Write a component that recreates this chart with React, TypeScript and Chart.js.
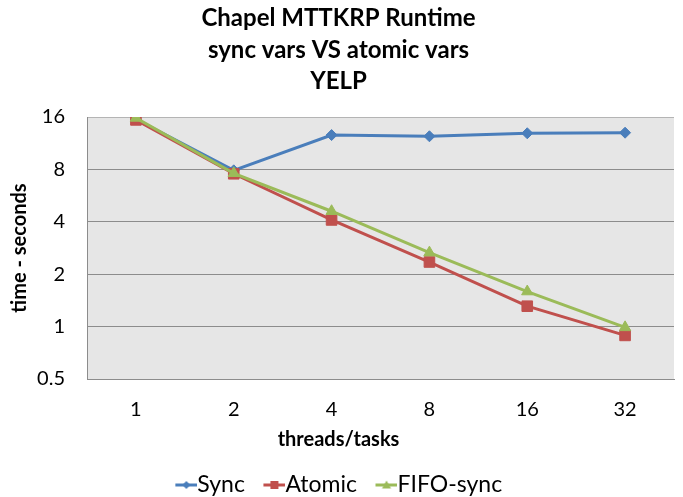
import React, { useEffect, useRef } from "react";
import { Chart, registerables } from "chart.js";

Chart.register(...registerables);

const categories = ["1", "2", "4", "8", "16", "32"];
const syncValues = [15.5, 7.9, 12.6, 12.4, 12.9, 13.0];
const atomicValues = [15.4, 7.55, 4.1, 2.35, 1.31, 0.89];
const fifoValues = [15.8, 7.6, 4.6, 2.66, 1.59, 0.99];
const yTicks = [0.5, 1, 2, 4, 8, 16];
const seriesNames = ["Sync", "Atomic", "FIFO-sync"];
const titleLines = ["Chapel MTTKRP Runtime", "sync vars VS atomic vars", "YELP"];

const COLORS = ["#4A7EBB", "#C0504D", "#9BBB59"];
const STYLES = ["rectRot", "rect", "triangle"];
const FONT = "Lato, 'Open Sans', sans-serif";

function makeLegendImage(color: string, style: string): HTMLCanvasElement {
  const c = document.createElement("canvas");
  c.width = 34;
  c.height = 14;
  const ctx = c.getContext("2d")!;
  ctx.strokeStyle = color;
  ctx.fillStyle = color;
  ctx.lineWidth = 3;
  ctx.beginPath();
  ctx.moveTo(12, 7);
  ctx.lineTo(34, 7);
  ctx.stroke();
  const cx = 23;
  ctx.beginPath();
  if (style === "rectRot") {
    ctx.moveTo(cx, 3);
    ctx.lineTo(cx + 4, 7);
    ctx.lineTo(cx, 11);
    ctx.lineTo(cx - 4, 7);
  } else if (style === "rect") {
    ctx.rect(cx - 4, 3, 8, 8);
  } else {
    ctx.moveTo(cx, 2.5);
    ctx.lineTo(cx + 4.5, 10.5);
    ctx.lineTo(cx - 4.5, 10.5);
  }
  ctx.closePath();
  ctx.fill();
  return c;
}

const plotBg = {
  id: "plotBg",
  beforeDraw(chart: any) {
    const { ctx, chartArea } = chart;
    if (!chartArea) return;
    ctx.save();
    ctx.fillStyle = "#E6E6E6";
    ctx.fillRect(chartArea.left, chartArea.top, chartArea.right - chartArea.left, chartArea.bottom - chartArea.top);
    ctx.restore();
  },
};

export default function App() {
  const ref = useRef<HTMLCanvasElement | null>(null);

  useEffect(() => {
    document.body.style.margin = "0";
    document.body.style.overflow = "hidden";
    if (!ref.current) return;
    const images = COLORS.map((c, i) => makeLegendImage(c, STYLES[i]));
    const allValues = [syncValues, atomicValues, fifoValues];
    const radii = [5.5, 7.5, 6.5];
    const chart = new Chart(ref.current, {
      type: "line",
      data: {
        labels: categories,
        datasets: allValues.map((vals, i) => ({
          label: seriesNames[i],
          data: vals,
          borderColor: COLORS[i],
          backgroundColor: COLORS[i],
          borderWidth: 3,
          pointStyle: STYLES[i] as any,
          pointRadius: radii[i],
          pointHoverRadius: radii[i],
          pointBackgroundColor: COLORS[i],
          pointBorderColor: COLORS[i],
          pointBorderWidth: 1,
          tension: 0,
          fill: false,
          order: 3 - i,
        })),
      },
      plugins: [plotBg],
      options: {
        animation: false,
        responsive: false,
        layout: { padding: { top: 3, left: 3, right: 9, bottom: -9.5 } },
        scales: {
          x: {
            type: "category",
            offset: true,
            afterFit(scale: any) {
              scale.height = 43;
            },
            grid: { display: false, drawTicks: false },
            border: { display: true, color: "#8C8C8C", width: 1 },
            ticks: {
              padding: 19,
              color: "#000",
              font: { family: FONT, size: 20, lineHeight: 1.2 },
              maxRotation: 0,
            },
          },
          y: {
            type: "logarithmic",
            min: 0.5,
            max: 16,
            afterBuildTicks(scale: any) {
              scale.ticks = yTicks.map((v) => ({ value: v }));
            },
            afterFit(scale: any) {
              scale.width = 84;
            },
            grid: {
              drawTicks: false,
              color: (ctx: any) => (ctx.tick && ctx.tick.value === 16 ? "#B4B4B4" : "#8C8C8C"),
              lineWidth: 1,
            },
            border: { display: true, color: "#8C8C8C", width: 1 },
            ticks: {
              padding: 22,
              color: "#000",
              font: { family: FONT, size: 20, lineHeight: 1.2 },
              callback: (v: any) => String(v),
            },
            title: {
              display: true,
              text: "time - seconds",
              color: "#000",
              padding: { top: 5, bottom: 0 },
              font: { family: FONT, size: 20, weight: "bold", lineHeight: 1.2 },
            },
          },
        },
        plugins: {
          title: {
            display: true,
            text: titleLines,
            color: "#000",
            padding: { top: 0, bottom: 20.4 },
            font: { family: FONT, size: 24, weight: "bold", lineHeight: 1.3 },
          },
          subtitle: {
            display: true,
            text: "threads/tasks",
            position: "bottom",
            weight: 500,
            color: "#000",
            padding: { top: 6, bottom: 3.5 },
            font: { family: FONT, size: 20, weight: "bold", lineHeight: 1.2 },
          } as any,
          legend: {
            display: true,
            position: "bottom",
            labels: {
              usePointStyle: true,
              pointStyleWidth: 11,
              padding: 18,
              color: "#000",
              font: { family: FONT, size: 23 },
              generateLabels(ch: any) {
                const items = Chart.defaults.plugins.legend.labels.generateLabels(ch);
                items.sort((a: any, b: any) => a.datasetIndex - b.datasetIndex);
                items.forEach((it: any) => {
                  it.pointStyle = images[it.datasetIndex];
                });
                return items;
              },
            },
          },
          tooltip: { enabled: false },
        },
      },
    });
    return () => chart.destroy();
  }, []);

  return (
    <div style={{ width: 683, height: 497 }}>
      <canvas ref={ref} width={683} height={497} style={{ display: "block", width: 683, height: 497 }} />
    </div>
  );
}
